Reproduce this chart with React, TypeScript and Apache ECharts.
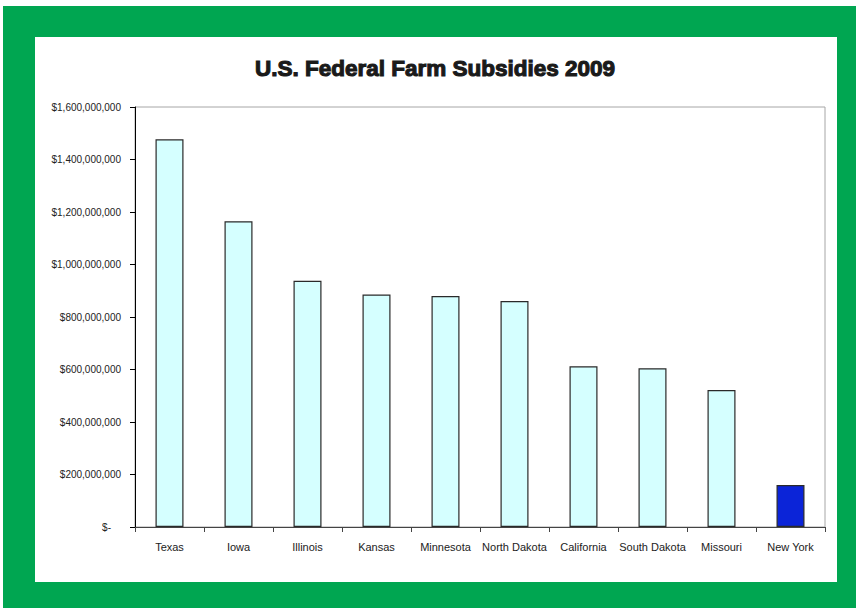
import React, { useEffect, useRef } from "react";
import * as echarts from "echarts";

const states = ["Texas", "Iowa", "Illinois", "Kansas", "Minnesota", "North Dakota", "California", "South Dakota", "Missouri", "New York"];
const subsidies = [1477000000, 1165000000, 938000000, 886000000, 880000000, 861000000, 612000000, 605000000, 522000000, 160000000];
const highlightState = "New York";
const titleText = "U.S. Federal Farm Subsidies 2009";

const fmt = (v: number) => {
  if (v === 0) return "{z|$-}";
  return "$" + v.toLocaleString("en-US");
};

export default function App() {
  const ref = useRef<HTMLDivElement>(null);
  useEffect(() => {
    if (!ref.current) return;
    const chart = echarts.init(ref.current, null, { renderer: "svg" });
    chart.setOption({
      animation: false,
      backgroundColor: "#ffffff",
      graphic: [
        { type: "rect", z: -10, shape: { x: 3, y: 6, width: 853, height: 602 }, style: { fill: "#00A651" }, silent: true },
        { type: "rect", z: -9, shape: { x: 35, y: 37, width: 802, height: 545 }, style: { fill: "#ffffff" }, silent: true },
        {
          type: "text",
          x: 435,
          y: 68,
          style: {
            text: titleText,
            fontFamily: "Liberation Sans, Arial, sans-serif",
            fontWeight: 900,
            fontSize: 22.5,
            fill: "#1a1a1a",
            align: "center",
            verticalAlign: "middle",
            stroke: "#1a1a1a",
            lineWidth: 1.1,
          },
        },
      ],
      grid: {
        left: 135,
        top: 107,
        right: 31,
        bottom: 81,
        show: true,
        borderColor: "#a6a6a6",
        borderWidth: 1,
        backgroundColor: "transparent",
      },
      xAxis: {
        type: "category",
        data: states,
        axisLine: { lineStyle: { color: "#444", width: 1 } },
        axisTick: { show: true, length: 5, alignWithLabel: false, lineStyle: { color: "#444" } },
        axisLabel: {
          margin: 14,
          fontFamily: "Liberation Sans, Arial, sans-serif",
          fontSize: 11,
          color: "#222",
          interval: 0,
        },
      },
      yAxis: {
        type: "value",
        min: 0,
        max: 1600000000,
        interval: 200000000,
        splitLine: { show: false },
        axisLine: { show: true, lineStyle: { color: "#000", width: 1 } },
        axisTick: { show: true, length: 5, lineStyle: { color: "#000" } },
        axisLabel: {
          margin: 14,
          fontFamily: "Liberation Sans, Arial, sans-serif",
          fontSize: 10,
          color: "#222",
          formatter: fmt,
          rich: { z: { padding: [0, 10, 0, 0], fontFamily: "Liberation Sans, Arial, sans-serif", fontSize: 10, color: "#222" } },
        },
      },
      series: [
        {
          type: "bar",
          barWidth: 28,
          data: subsidies.map((v, i) => ({
            value: v,
            itemStyle: {
              color: states[i] === highlightState ? "#0B24D8" : "#D5FFFF",
              borderColor: "#2a2a2a",
              borderWidth: 1.2,
            },
          })),
        },
      ],
    });
    return () => chart.dispose();
  }, []);
  return <div ref={ref} style={{ position: "fixed", left: 0, top: 0, width: 856, height: 608 }} />;
}
